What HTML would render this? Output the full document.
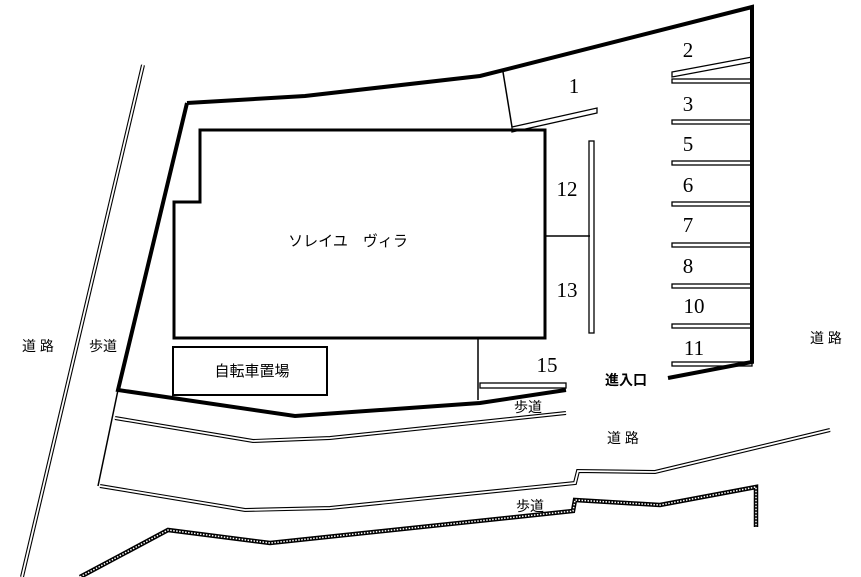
<!DOCTYPE html>
<html><head><meta charset="utf-8"><style>
body{margin:0;background:#fff}
svg{display:block}
.n{font-family:"Liberation Serif","Noto Serif CJK SC",serif;font-size:21px;fill:#000}
.j{font-family:"Liberation Sans","Noto Sans CJK JP",sans-serif;fill:#000}
</style></head><body>
<svg width="861" height="577" viewBox="0 0 861 577" xmlns="http://www.w3.org/2000/svg">
<g fill="none" stroke="#000">
<!-- outer boundary -->
<polyline points="187,103 305,96 480,76 752,7 752,362 668,378" stroke-width="4"/>
<polyline points="187,103 118,390 295,416 480,403 566,390" stroke-width="4"/>
<!-- building -->
<polygon points="200,130 545,130 545,338 174,338 174,202 200,202" stroke-width="3"/>
<rect x="173" y="347" width="154" height="48" stroke-width="2"/>
<line x1="478" y1="338" x2="478" y2="400" stroke-width="1.5"/>
<line x1="545" y1="236" x2="590" y2="236" stroke-width="1.5"/>
<line x1="503" y1="72" x2="512" y2="127" stroke-width="1.5"/>
<!-- slots -->
<rect x="589" y="141" width="5" height="192" stroke-width="1.3"/>
<polygon points="512,127 597,108 597,113 512,132" stroke-width="1.3"/>
<polygon points="672,72 752,57 752,62 672,77" stroke-width="1.3"/>
<g stroke-width="1.3">
<rect x="672" y="79" width="80" height="4"/>
<rect x="672" y="120" width="80" height="4"/>
<rect x="672" y="161" width="80" height="4"/>
<rect x="672" y="202" width="80" height="4"/>
<rect x="672" y="243" width="80" height="4"/>
<rect x="672" y="284" width="80" height="4"/>
<rect x="672" y="324" width="80" height="4"/>
<rect x="672" y="362" width="80" height="4"/>
<rect x="480" y="383" width="86" height="5"/>
</g>
<!-- roads -->
<g stroke-width="4"><polyline points="143,65 22,577"/><polyline points="115,418 253,441 330,438 566,413"/><polyline points="100,486 245,510 330,508 575,483 578,471 655,472 830,430"/></g>
<g stroke="#fff" stroke-width="1.8"><polyline points="143,65 22,577"/><polyline points="115,418 253,441 330,438 566,413"/><polyline points="100,486 245,510 330,508 575,483 578,471 655,472 830,430"/></g>
<line x1="118" y1="390" x2="98" y2="486" stroke-width="1.5"/>
<polyline points="80,577 168,530 270,543 573,511 575,500 660,505 756,487 756,527" stroke-width="4.5"/>
<polyline points="80,577 168,530 270,543 573,511 575,500 660,505 756,487 756,527" stroke="#fff" stroke-width="1.5" stroke-dasharray="1.5 1.5"/>
</g>
<g class="n" text-anchor="middle">
<text x="574" y="93">1</text><text x="688" y="57">2</text><text x="688" y="111">3</text>
<text x="688" y="151">5</text><text x="688" y="192">6</text><text x="688" y="232">7</text>
<text x="688" y="273">8</text><text x="694" y="313">10</text><text x="694" y="355">11</text>
<text x="567" y="196">12</text><text x="567" y="297">13</text><text x="547" y="372">15</text>
</g>
<g class="j" text-anchor="middle">
<text x="348" y="246" font-size="15">ソレイユ　ヴィラ</text>
<text x="252" y="376" font-size="15">自転車置場</text>
<text x="38" y="351" font-size="14">道 路</text>
<text x="103" y="351" font-size="14">歩道</text>
<text x="826" y="343" font-size="14">道 路</text>
<text x="626" y="385" font-size="14" font-weight="bold">進入口</text>
<text x="528" y="412" font-size="14">歩道</text>
<text x="623" y="443" font-size="14">道 路</text>
<text x="530" y="511" font-size="14">歩道</text>
</g>
</svg>
</body></html>
